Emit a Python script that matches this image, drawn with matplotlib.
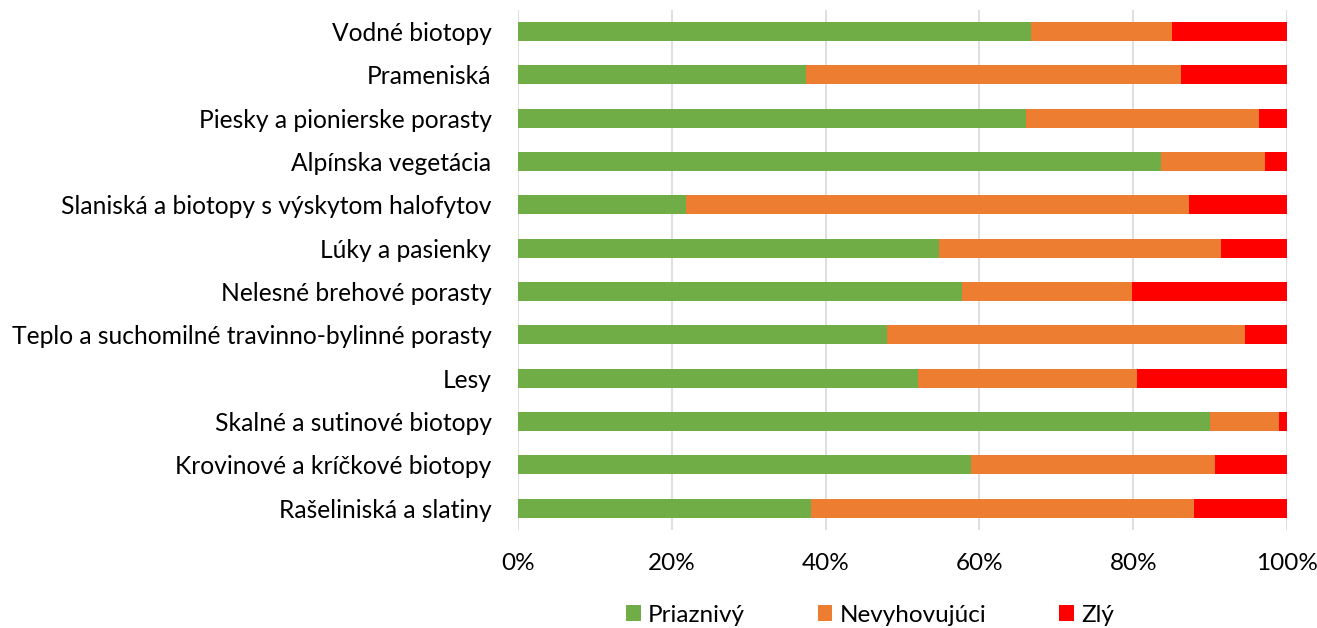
import matplotlib
matplotlib.use('Agg')
import matplotlib.pyplot as plt
import numpy as np

plt.rcParams['font.family'] = ['Lato', 'DejaVu Sans']

kategorie = ['Vodné biotopy', 'Prameniská', 'Piesky a pionierske porasty',
             'Alpínska vegetácia', 'Slaniská a biotopy s výskytom halofytov',
             'Lúky a pasienky', 'Nelesné brehové porasty',
             'Teplo a suchomilné travinno-bylinné porasty', 'Lesy',
             'Skalné a sutinové biotopy', 'Krovinové a kríčkové biotopy',
             'Rašeliniská a slatiny']
priaznivy = [66.7, 37.5, 66.1, 83.6, 21.8, 54.7, 57.8, 48.0, 52.0, 90.0, 58.9, 38.1]
nevyhovujuci = [18.4, 48.7, 30.2, 13.5, 65.5, 36.7, 22.0, 46.5, 28.5, 9.0, 31.8, 49.8]
zly = [14.9, 13.8, 3.7, 2.9, 12.7, 8.6, 20.2, 5.5, 19.5, 1.0, 9.3, 12.1]

fig = plt.figure(figsize=(13.17, 6.28), dpi=100)
ax = fig.add_axes([518/1317, 1-529.7/628, (1287-518)/1317, (529.7-9.85)/628])

y = np.arange(len(kategorie))
p = np.array(priaznivy)
n = np.array(nevyhovujuci)
z = np.array(zly)
h = 0.44
ax.barh(y, p, height=h, color='#70AD47', label='Priaznivý', zorder=3)
ax.barh(y, n, left=p, height=h, color='#ED7D31', label='Nevyhovujúci', zorder=3)
ax.barh(y, z, left=p+n, height=h, color='#FF0000', label='Zlý', zorder=3)

ax.set_xlim(0, 100)
ax.set_ylim(len(kategorie)-0.5, -0.5)
ax.set_yticks(y)
ax.set_yticklabels(kategorie, fontsize=17.7)
ax.set_xticks(np.arange(0, 101, 20))
ax.set_xticklabels([f'{v}%' for v in range(0, 101, 20)], fontsize=17.5)
ax.tick_params(length=0)
ax.tick_params(axis='y', pad=19)
ax.tick_params(axis='x', pad=17)
ax.grid(axis='x', color='#D9D9D9', linewidth=1.2, zorder=0)
for s in ax.spines.values():
    s.set_visible(False)

fig.legend(loc='center', bbox_to_anchor=(870/1317, 1-615/628), ncol=3,
           frameon=False, fontsize=17.5, handlelength=0.6, handleheight=0.6,
           handletextpad=0.3, columnspacing=3.0)

fig.savefig('out.png', dpi=100)
